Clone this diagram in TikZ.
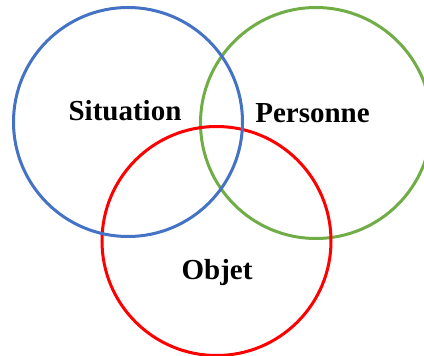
\documentclass[tikz,border=0pt]{standalone}
\usepackage{fontspec}
\setmainfont{Liberation Serif}
\definecolor{ringblue}{HTML}{4472C4}
\definecolor{ringgreen}{HTML}{70AD47}
\definecolor{ringred}{HTML}{FF0000}
\begin{document}
\begin{tikzpicture}[x=1pt,y=-1pt,
  ring/.style={circle,draw,line width=3pt,minimum size=229pt,inner sep=0pt},
  label/.style={font=\fontsize{29}{34}\selectfont\bfseries,anchor=base,inner sep=0pt}]
  \useasboundingbox (0,0) rectangle (424,356);
  \clip (0,0) rectangle (424,356);
  % drawn back to front: green, red, blue
  \node[ring,draw=ringgreen,minimum size=231pt] (pers) at (316,123) {};
  \node[ring,draw=ringred] (obj) at (216.5,241) {};
  \node[ring,draw=ringblue] (situ) at (128,122) {};
  \node[label] (tsitu) at (125,121) {Situation};
  \node[label] (tpers) at (312.5,122) {Personne};
  \node[label] (tobj) at (217,279) {Objet};
\end{tikzpicture}
\end{document}
